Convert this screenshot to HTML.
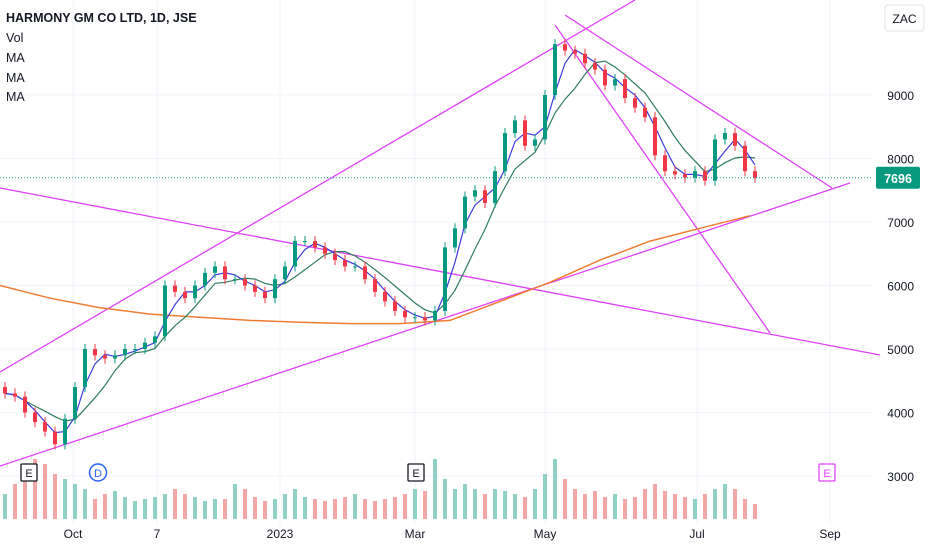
<!DOCTYPE html>
<html><head><meta charset="utf-8"><style>
body{margin:0;background:#fff;font-family:"Liberation Sans",sans-serif}
svg{display:block}
</style></head><body>
<svg id="c" width="932" height="550">
<g id="grid"></g>
<g id="vol"></g>
<g id="draw"></g>
<g id="ma"></g>
<g id="candles"></g>
<g id="axes"></g>
<text x="6" y="22" font-size="12.5" font-weight="bold" fill="#131722">HARMONY GM CO LTD, 1D, JSE</text>
<text x="6" y="42" font-size="12.5" fill="#131722">Vol</text>
<text x="6" y="62" font-size="12.5" fill="#131722">MA</text>
<text x="6" y="82" font-size="12.5" fill="#131722">MA</text>
<text x="6" y="101" font-size="12.5" fill="#131722">MA</text>
<g><rect x="885" y="5" width="39" height="26" rx="3" fill="#fff" stroke="#e0e3eb"/><text x="904.5" y="23" font-size="12" text-anchor="middle" fill="#131722">ZAC</text></g>
</svg>
<script>
const closes=[4300,4250,4000,3850,3700,3500,3900,4400,5000,4900,4850,4900,5000,5000,5100,5200,6000,5900,5800,6000,6200,6300,6100,6100,6000,5900,5800,6100,6300,6700,6700,6600,6500,6400,6300,6300,6100,5900,5750,5600,5500,5500,5450,5600,6600,6900,7400,7500,7300,7800,8400,8600,8200,8300,9000,9800,9700,9650,9500,9400,9150,9250,8950,8800,8650,8050,7800,7750,7700,7800,7650,8300,8400,8200,7800,7696];
const volumes=[25,35,50,60,55,45,40,35,30,20,25,28,22,18,20,22,25,30,25,22,18,20,20,35,30,22,18,20,25,30,22,20,18,20,22,25,20,18,20,22,25,30,28,60,40,30,35,30,25,30,28,25,22,30,45,60,40,30,25,28,22,25,20,22,30,35,28,25,22,20,25,30,35,30,20,15];
const orangeMA=[6000,5800,5650,5550,5500,5450,5420,5400,5400,5450,5750,6050,6400,6700,6900,7100];
const priceTicks=[3000,4000,5000,6000,7000,8000,9000];
const dateLabels=["Oct","7","2023","Mar","May","Jul","Sep"];
const dateX=[73,157,280,415,545,697,830];
const lastPrice=7696;
const NS="http://www.w3.org/2000/svg";
const yS=p=>95+(9000-p)*0.0635;
const xS=i=>5+i*10;
function mk(tag,attrs,parent){const e=document.createElementNS(NS,tag);for(const k in attrs)e.setAttribute(k,attrs[k]);parent.appendChild(e);return e;}
const G=id=>document.getElementById(id);
priceTicks.forEach(p=>{const l=mk('line',{x1:0,x2:872,y1:yS(p),y2:yS(p),stroke:'#f0f3fa'},G('grid'));


const t=mk('text',{x:914,y:yS(p)+5,'font-size':12,'text-anchor':'end',fill:'#131722'},G('axes'));t.textContent=p;

});
dateLabels.forEach((d,k)=>{const l=mk('line',{x1:dateX[k],x2:dateX[k],y1:0,y2:525,stroke:'#f0f3fa'},G('grid'));


const t=mk('text',{x:dateX[k],y:538,'font-size':12,'text-anchor':'middle',fill:'#131722'},G('axes'));t.textContent=d;

});
closes.forEach((c,i)=>{const o=i?closes[i-1]:c;const up=c>=o;const h=volumes[i];
const r=mk('rect',{x:xS(i)-2,y:519-h,width:4,height:h,fill:up?'#8fd1c4':'#f4a6a6'},G('vol'));

});
[[0,372,635,0],[0,466,850,183],[0,188,880,355],[565,15,832,188],[555,25,770,333]].forEach(s=>{
const l=mk('line',{x1:s[0],y1:s[1],x2:s[2],y2:s[3],stroke:'#e040fb','stroke-width':1.3},G('draw'));

});
function sma(n){return closes.map((c,i)=>{const a=closes.slice(Math.max(0,i-n+1),i+1);return a.reduce((s,v)=>s+v,0)/a.length;});}
function pathOf(vals,xf){return vals.map((v,i)=>(i?'L':'M')+xf(i).toFixed(1)+' '+yS(v).toFixed(1)).join(' ');}
const p1=mk('path',{d:pathOf(orangeMA,i=>i*50),fill:'none',stroke:'#ef7d31','stroke-width':1.5},G('ma'));


const p2=mk('path',{d:pathOf(sma(6),xS),fill:'none',stroke:'#2e7d5b','stroke-width':1.2},G('ma'));


const p3=mk('path',{d:pathOf(sma(3),xS),fill:'none',stroke:'#3b3bdb','stroke-width':1.2},G('ma'));


closes.forEach((c,i)=>{const o=i?closes[i-1]:c+100;const up=c>=o;const col=up?'#089981':'#f23645';
const hi=Math.max(o,c)+80,lo=Math.min(o,c)-80;
const w=mk('line',{x1:xS(i),x2:xS(i),y1:yS(hi),y2:yS(lo),stroke:col},G('candles'));


const b=mk('rect',{x:xS(i)-2,y:yS(Math.max(o,c)),width:4,height:Math.max(1,Math.abs(yS(o)-yS(c))),fill:col},G('candles'));

});
const dl=mk('line',{x1:0,x2:872,y1:yS(lastPrice),y2:yS(lastPrice),stroke:'#089981','stroke-dasharray':'1 2'},G('axes'));


const lb=mk('rect',{x:876,y:yS(lastPrice)-11,width:44,height:22,rx:2,fill:'#089981'},G('axes'));


const lt=mk('text',{x:898,y:yS(lastPrice)+5,'font-size':12.5,'font-weight':'bold','text-anchor':'middle',fill:'#fff'},G('axes'));lt.textContent=lastPrice;


[[29,'E','#131722','sq'],[98,'D','#2962ff','ci'],[416,'E','#131722','sq'],[827,'E','#e040fb','sq']].forEach(e=>{
const g=mk('g',{},G('axes'));


if(e[3]==='sq')mk('rect',{x:e[0]-8,y:464,width:16,height:17,fill:'#fff',stroke:e[2],'stroke-width':1.3,rx:1},g);
else mk('circle',{cx:e[0],cy:472.5,r:8.5,fill:'#fff',stroke:e[2],'stroke-width':1.5},g);
const t=mk('text',{x:e[0],y:477,'font-size':11,'text-anchor':'middle',fill:e[2]},g);t.textContent=e[1];});
</script>
</body></html>
